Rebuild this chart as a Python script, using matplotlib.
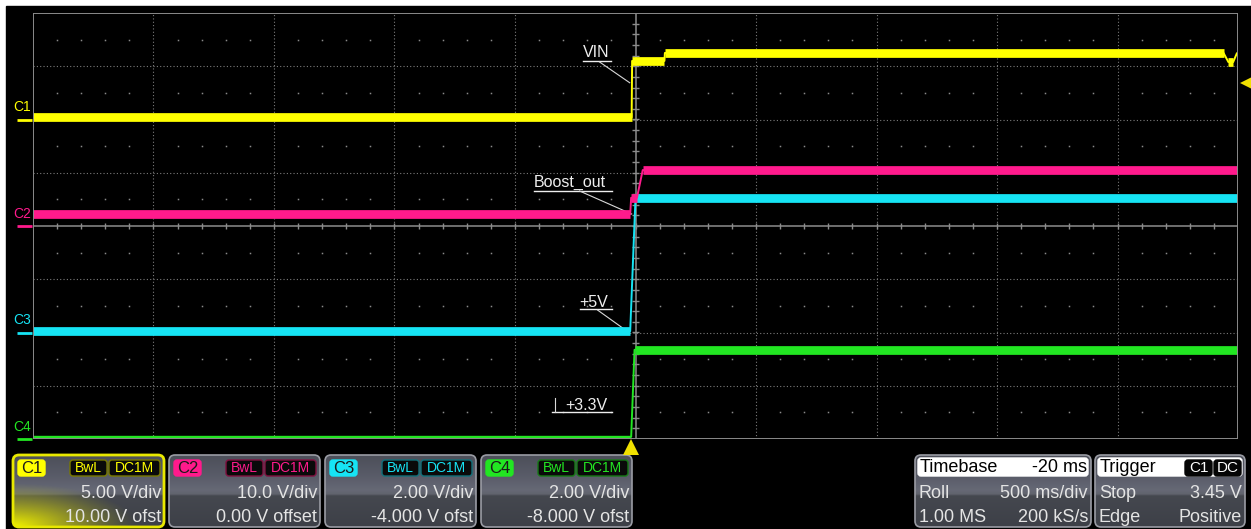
import numpy as np
import matplotlib.pyplot as plt
from matplotlib.patches import Rectangle, FancyBboxPatch
from matplotlib.transforms import blended_transform_factory

plt.rcParams['font.family'] = ['Liberation Sans', 'DejaVu Sans']

W, H = 1251, 529

# настройки каналов
ch_names = ['C1', 'C2', 'C3', 'C4']
ch_colors = ['#ffff00', '#ff1a8c', '#16e4f4', '#22e622']
ch_scale = [5.0, 10.0, 2.0, 2.0]          # V/div
ch_offset = [10.0, 0.0, -4.0, -8.0]       # V
ch_offset_label = ['10.00 V ofst', '0.00 V offset', '-4.000 V ofst', '-8.000 V ofst']

# развертка: 500 ms/div, триггер в t = 0
t_div = 0.5
t_left, t_right = -2.48, 2.52
trig_level = 3.45

# осциллограммы: точки излома (с, В)
c1_t = [-2.48, 0.004, 0.006, 0.14, 0.142, 2.46, 2.48, 2.50, 2.515]
c1_v = [0.2, 0.2, 5.5, 5.5, 6.25, 6.25, 5.4, 5.4, 6.2]
c2_t = [-2.48, -0.002, 0.002, 0.026, 0.05, 2.52]
c2_v = [2.2, 2.2, 5.3, 5.3, 10.5, 10.5]
c3_t = [-2.48, -0.002, 0.02, 2.52]
c3_v = [0.05, 0.05, 5.05, 5.05]
c4_t = [-2.48, 0.002, 0.016, 2.52]
c4_v = [0.08, 0.08, 3.35, 3.35]

timebase_rows = [('Roll', '500 ms/div'), ('1.00 MS', '200 kS/s')]
trigger_rows = [('Stop', '3.45 V'), ('Edge', 'Positive')]

fig = plt.figure(figsize=(W / 100, H / 100), dpi=100, facecolor='white')

# фон в пикселях
bg = fig.add_axes([0, 0, 1, 1])
bg.set_xlim(0, W)
bg.set_ylim(H, 0)
bg.axis('off')
bg.add_patch(Rectangle((6, 6), W, H, color='black', zorder=0))

# сетка экрана
ax = fig.add_axes([33 / W, 1 - 439 / H, 1205 / W, 426 / H])
ax.set_xlim(t_left, t_right)
ax.set_ylim(-4, 4)
ax.set_axis_off()
ax.patch.set_visible(False)

grid_c = '#7c7c7c'
t_center = t_left + 5 * t_div
for k in range(1, 10):
    if k != 5:
        ax.axvline(t_left + k * t_div, color=grid_c, lw=0.8, ls=(0, (1, 2)))
for k in range(-3, 4):
    if k != 0:
        ax.axhline(k, color=grid_c, lw=0.8, ls=(0, (1, 2)))
sub = t_left + np.arange(1, 50) * 0.1
dots = sub[np.arange(1, 50) % 5 != 0]
for yy in np.arange(-3.5, 4, 1.0):
    ax.plot(dots, np.full(len(dots), yy), ls='none', marker='s', ms=1.1,
            mew=0, color='#8a8a8a')
ax.axhline(0, color='#8c8c8c', lw=1.1)
ax.axvline(t_center, color='#8c8c8c', lw=1.1)
ax.vlines(sub, -0.06, 0.06, color='#8c8c8c', lw=1.0)
ax.hlines(np.arange(-3.8, 4, 0.2), t_center - 0.015, t_center + 0.015,
          color='#8c8c8c', lw=1.0)
ax.add_patch(Rectangle((0, 0), 1, 1, transform=ax.transAxes, fill=False,
                       ec='#8a8a8a', lw=1.4, zorder=5))


def draw_trace(t, v, color, scale, offset, band=6.3, thin=()):
    t = np.asarray(t)
    v = np.asarray(v)
    y = (v + offset) / scale
    ax.plot(t, y, color=color, lw=1.4, zorder=3)
    for i in range(len(t) - 1):
        if v[i] == v[i + 1]:
            lw = 1.6 if i in thin else band
            ax.plot(t[i:i + 2], y[i:i + 2], color=color, lw=lw,
                    solid_capstyle='butt', zorder=3)


draw_trace(c4_t, c4_v, ch_colors[3], ch_scale[3], ch_offset[3], thin=(0,))
draw_trace(c3_t, c3_v, ch_colors[2], ch_scale[2], ch_offset[2])
draw_trace(c2_t, c2_v, ch_colors[1], ch_scale[1], ch_offset[1])
draw_trace(c1_t, c1_v, ch_colors[0], ch_scale[0], ch_offset[0])

# маркеры нуля каналов слева
left_tr = blended_transform_factory(ax.transAxes, ax.transData)
for name, col, s, o in zip(ch_names, ch_colors, ch_scale, ch_offset):
    g = o / s
    ax.plot([-0.0135, -0.0005], [g, g], color=col, lw=2, transform=left_tr,
            clip_on=False, solid_capstyle='butt')
    ax.text(-0.0168, g + 0.23, name, color=col, fontsize=10, ha='left',
            va='center', transform=left_tr, clip_on=False)

# уровень запуска и момент запуска
ax.plot([1.0065], [(trig_level + ch_offset[0]) / ch_scale[0]], marker='<',
        ms=9, color='#f0e000', mew=0, transform=left_tr, clip_on=False)
bot_tr = blended_transform_factory(ax.transData, ax.transAxes)
ax.plot([0], [-0.018], marker='^', ms=11, color='#f0e000', mew=0,
        transform=bot_tr, clip_on=False)

# подписи на экране
lbl_c = '#eeeeee'


def label(text, tx, ty, u0, u1, uy, lead):
    ax.text(tx, ty, text, color=lbl_c, fontsize=11.5, ha='left', va='baseline')
    ax.plot([u0, u1], [uy, uy], color=lbl_c, lw=1.0)
    if lead is not None:
        ax.plot(lead[0], lead[1], color='#d8d8d8', lw=0.8)


label('VIN', -0.199, 3.17, -0.199, -0.083, 3.10,
      ([-0.129, -0.004], [3.08, 2.69]))
label('Boost_out', -0.402, 0.73, -0.402, -0.079, 0.657,
      ([-0.212, 0.004], [0.657, 0.225]))
label('+5V', -0.212, -1.52, -0.212, -0.079, -1.56,
      ([-0.137, -0.004], [-1.58, -2.01]))
label('+3.3V', -0.27, -3.455, -0.328, -0.079, -3.49,
      ([-0.315, -0.315], [-3.23, -3.49]))

# панели внизу
txt_c = '#e4e4e4'
top, bot = 455, 527
stops_y = [455, 476, 490, 494, 496, 527]
stops_c = np.array([[0.30, 0.31, 0.35], [0.35, 0.36, 0.41], [0.40, 0.41, 0.46],
                    [0.38, 0.39, 0.43], [0.27, 0.28, 0.31], [0.24, 0.25, 0.28]])


def panel(x0, x1, edge='#9a9ca4', elw=1.2):
    p = FancyBboxPatch((x0, top), x1 - x0, bot - top,
                       boxstyle='round,pad=0,rounding_size=6',
                       fc='none', ec=edge, lw=elw, zorder=4)
    bg.add_patch(p)
    ys = np.arange(top, bot + 1)
    grad = np.stack([np.interp(ys, stops_y, stops_c[:, i]) for i in range(3)], -1)
    im = bg.imshow(grad[:, None, :], extent=[x0, x1, bot, top], aspect='auto',
                   zorder=2, interpolation='bilinear')
    im.set_clip_path(p)
    return p


def badge(x0, x1, text, fc, tc, ec=None, fs=10):
    bg.add_patch(FancyBboxPatch((x0, 460), x1 - x0, 16,
                                boxstyle='round,pad=0,rounding_size=3',
                                fc=fc, ec=ec if ec else fc, lw=1.0, zorder=5))
    bg.text((x0 + x1) / 2, 468.5, text, color=tc, fontsize=fs, ha='center',
            va='center', zorder=6)


dark = {'C1': '#7a7a00', 'C2': '#80103f', 'C3': '#10707a', 'C4': '#157a15'}
for i, name in enumerate(ch_names):
    x0 = 13 + i * 156
    x1 = x0 + 151
    col = ch_colors[i]
    if i == 0:
        p = panel(x0, x1, edge='#e8e800', elw=2.0)
        gx, gy = np.meshgrid(np.linspace(x0, x1, 160), np.linspace(top, bot, 80))
        r = np.sqrt(((gx - x0) / 120) ** 2 + ((gy - bot) / 42) ** 2)
        glow = np.zeros(gx.shape + (4,))
        glow[..., 0] = 0.92
        glow[..., 1] = 0.92
        glow[..., 3] = np.clip(1.05 - r, 0, 1) ** 1.2
        im = bg.imshow(glow, extent=[x0, x1, bot, top], aspect='auto', zorder=3)
        im.set_clip_path(p)
    else:
        panel(x0, x1)
    badge(x0 + 5, x0 + 32, name, col, '#1a1a1a', fs=12)
    badge(x0 + 57, x0 + 94, 'BwL', '#0a0a0a', col, ec=dark[name], fs=10)
    badge(x0 + 96, x0 + 147, 'DC1M', '#0a0a0a', col, ec=dark[name], fs=10)
    bg.text(x1 - 3, 493, f'{ch_scale[i]:#.3g} V/div', color=txt_c, fontsize=13,
            ha='right', va='center', zorder=6)
    bg.text(x1 - 3, 517, ch_offset_label[i], color=txt_c, fontsize=13,
            ha='right', va='center', zorder=6)

# развертка
panel(915, 1091)
bg.add_patch(FancyBboxPatch((918, 458), 170, 18, boxstyle='round,pad=0,rounding_size=3',
                            fc='white', ec='white', zorder=5))
bg.text(920, 467.5, 'Timebase', color='black', fontsize=13, va='center', zorder=6)
bg.text(1087, 467.5, '-20 ms', color='black', fontsize=13, va='center',
        ha='right', zorder=6)
for (a, b), yy in zip(timebase_rows, [493, 517]):
    bg.text(919, yy, a, color=txt_c, fontsize=13, va='center', zorder=6)
    bg.text(1088, yy, b, color=txt_c, fontsize=13, va='center', ha='right', zorder=6)

# запуск
panel(1095, 1245)
bg.add_patch(FancyBboxPatch((1098, 458), 144, 18, boxstyle='round,pad=0,rounding_size=3',
                            fc='white', ec='white', zorder=5))
bg.text(1100, 467.5, 'Trigger', color='black', fontsize=13, va='center', zorder=6)
badge(1185, 1212, 'C1', '#050505', 'white', fs=11)
badge(1214, 1241, 'DC', '#050505', 'white', fs=11)
for (a, b), yy in zip(trigger_rows, [493, 517]):
    bg.text(1099, yy, a, color=txt_c, fontsize=13, va='center', zorder=6)
    bg.text(1242, yy, b, color=txt_c, fontsize=13, va='center', ha='right', zorder=6)

bg.set_xlim(0, W)
bg.set_ylim(H, 0)

fig.savefig('out.png', dpi=100, facecolor=fig.get_facecolor())
